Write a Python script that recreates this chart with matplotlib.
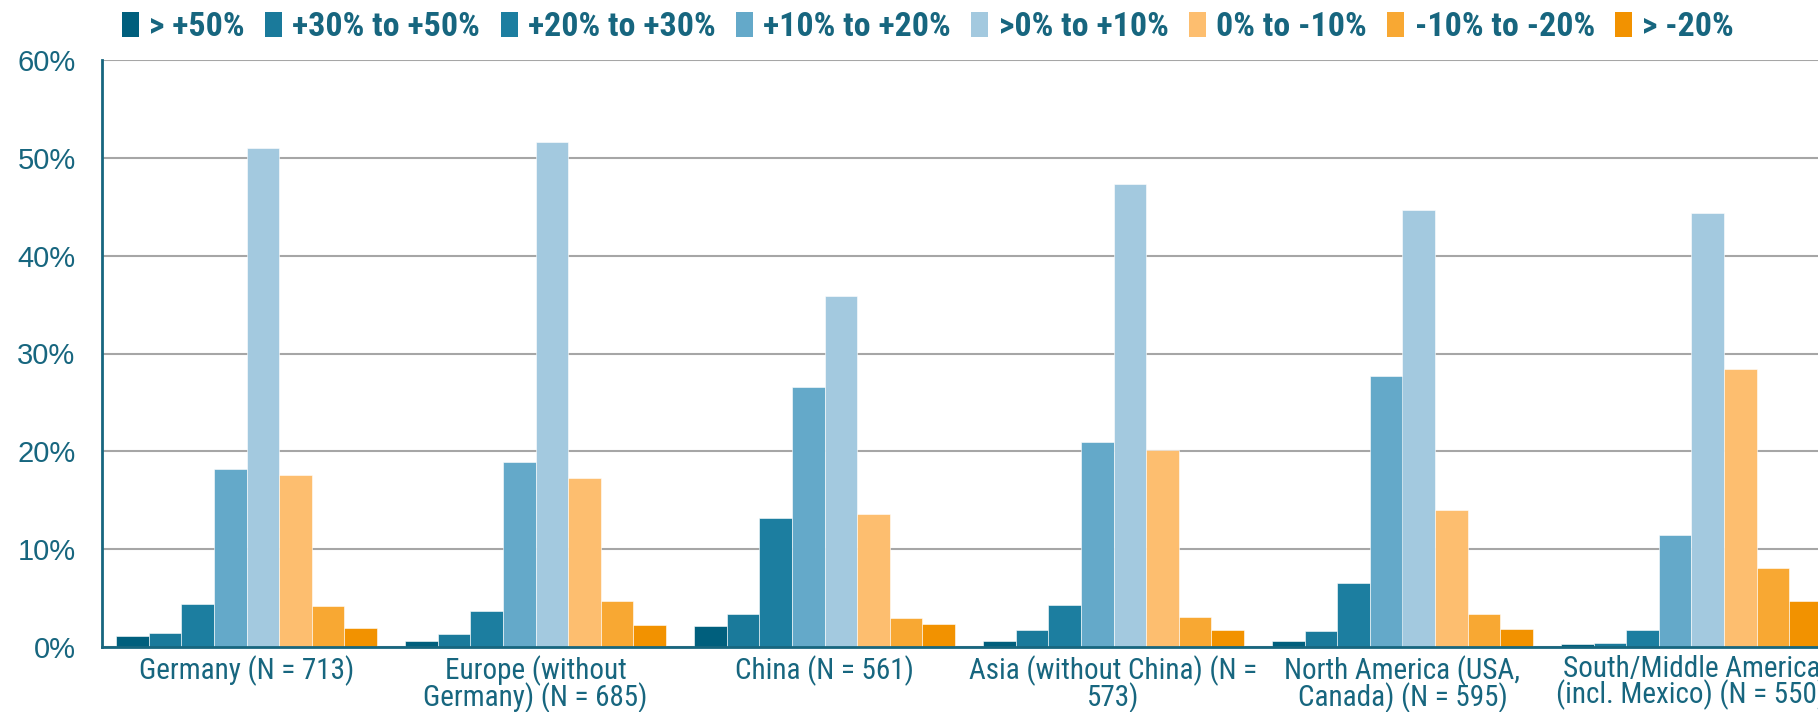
import numpy as np
import matplotlib
matplotlib.use("Agg")
import matplotlib.pyplot as plt
from matplotlib.patches import Patch

regions = ["Germany (N = 713)", "Europe (without\nGermany) (N = 685)", "China (N = 561)",
           "Asia (without China) (N =\n573)", "North America (USA,\nCanada) (N = 595)",
           "South/Middle America\n(incl. Mexico) (N = 550)"]
series = ["> +50%", "+30% to +50%", "+20% to +30%", "+10% to +20%",
          ">0% to +10%", "0% to -10%", "-10% to -20%", "> -20%"]

# share of answers per region (%), one list per series
gt50    = [1.1, 0.6, 2.1, 0.6, 0.6, 0.3]
p30_50  = [1.4, 1.3, 3.4, 1.7, 1.6, 0.4]
p20_30  = [4.4, 3.7, 13.2, 4.3, 6.5, 1.7]
p10_20  = [18.2, 18.9, 26.6, 21.0, 27.7, 11.4]
p0_10   = [51.0, 51.6, 35.9, 47.3, 44.7, 44.4]
m0_10   = [17.6, 17.3, 13.6, 20.1, 14.0, 28.4]
m10_20  = [4.2, 4.7, 3.0, 3.1, 3.4, 8.1]
lt20    = [1.9, 2.2, 2.4, 1.7, 1.8, 4.7]
values = [gt50, p30_50, p20_30, p10_20, p0_10, m0_10, m10_20, lt20]

colors = ["#005f7d", "#1a7a9b", "#1c7ea0", "#64a9c9", "#a3c9df", "#fdbe6f", "#f8a833", "#f29200"]
teal = "#17667f"
narrow = ["Roboto Condensed", "DejaVu Sans"]

fig = plt.figure(figsize=(18.18, 7.12), dpi=100)
ax = fig.add_axes([102 / 1818, 65 / 712, 1716 / 1818, 587 / 712])

n = len(series)
bw = 0.9 / n
x = np.arange(len(regions))
for i, vals in enumerate(values):
    ax.bar(x - 0.45 + bw * (i + 0.5), vals, width=bw, color=colors[i],
           edgecolor="white", linewidth=0.4, zorder=3)

ax.set_ylim(0, 60)
ax.set_xlim(-0.5, -0.5 + 1716 / 289)
ax.set_yticks(range(0, 61, 10))
ax.set_yticklabels([f"{v}%" for v in range(0, 61, 10)], fontsize=21,
                   color=teal, family="Liberation Sans")
ax.set_xticks(x)
ax.set_xticklabels(regions, fontsize=21, color=teal, family=narrow, linespacing=0.85)
ax.tick_params(axis="y", length=0, pad=19)
ax.tick_params(axis="x", length=0, pad=6)
ax.grid(axis="y", color="#a6a6a6", linewidth=1.5, zorder=0)
for s in ["top", "right"]:
    ax.spines[s].set_visible(False)
ax.spines["left"].set_color(teal)
ax.spines["left"].set_linewidth(2)
ax.spines["bottom"].set_color(teal)
ax.spines["bottom"].set_linewidth(2)
ax.spines["bottom"].set_zorder(4)

handles = [Patch(facecolor=c, edgecolor="none") for c in colors]
fig.legend(handles, series, loc="center", bbox_to_anchor=(928 / 1818, 1 - 27 / 712),
           ncol=8, frameon=False, handlelength=0.5, handleheight=0.75,
           handletextpad=0.3, columnspacing=0.6,
           prop={"family": narrow, "weight": "bold", "size": 24.5}, labelcolor=teal)

fig.savefig("out.png", dpi=100)
